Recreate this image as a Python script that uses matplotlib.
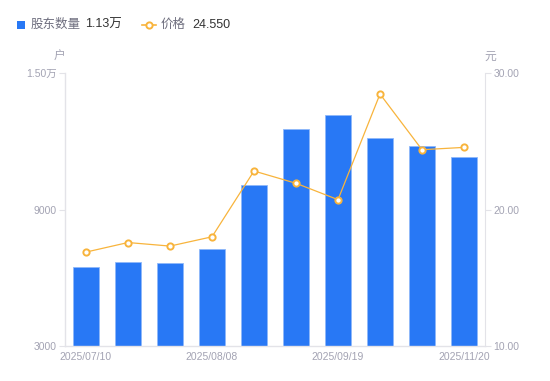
import matplotlib
matplotlib.use("Agg")
import matplotlib.pyplot as plt
import numpy as np

plt.rcParams['font.family'] = ['Liberation Sans', 'Noto Sans CJK SC', 'DejaVu Sans']

dates = ["2025/07/10", "2025/07/18", "2025/07/31", "2025/08/08", "2025/08/20",
         "2025/08/29", "2025/09/19", "2025/09/30", "2025/10/31", "2025/11/20"]
holders = [6470, 6690, 6650, 7260, 10080, 12530, 13160, 12130, 11780, 11300]
price = [16.88, 17.58, 17.32, 18.00, 22.82, 21.92, 20.72, 28.46, 24.38, 24.55]
label_idx = [0, 3, 6, 9]
left_ticks = [3000, 9000, 15000]
left_labels = ["3000", "9000", "1.50万"]
right_ticks = [10, 20, 30]
right_labels = ["10.00", "20.00", "30.00"]

BLUE = "#2878F5"
ORANGE = "#F8B43C"
GREY_TXT = "#A3A3B3"
AXIS = "#E3E3E8"

fig = plt.figure(figsize=(5.5, 3.81), dpi=100)
ax = fig.add_axes([65/550, 1-346/381, 420/550, 273/381])
x = np.arange(len(dates))
ax.bar(x, holders, width=0.6, color=BLUE, edgecolor="#8FB8FA", linewidth=0.6, zorder=2)
ax.set_xlim(-0.5, len(dates)-0.5)
ax.set_ylim(3000, 15000)
ax.set_yticks(left_ticks)
ax.set_yticklabels(left_labels)
ax.set_xticks([x[i] for i in label_idx])
ax.set_xticklabels([dates[i] for i in label_idx])
for s in ["top", "right"]:
    ax.spines[s].set_visible(False)
for s in ["left", "bottom"]:
    ax.spines[s].set_color(AXIS)
    ax.spines[s].set_linewidth(1)
ax.tick_params(axis='y', colors=AXIS, labelcolor=GREY_TXT, labelsize=7.5, length=4, width=0.8, pad=2)
ax.tick_params(axis='x', length=0, labelcolor=GREY_TXT, labelsize=7.5, pad=4)

ax2 = ax.twinx()
ax2.plot(x, price, color=ORANGE, linewidth=0.9, marker='o', markersize=4.5,
         markerfacecolor='white', markeredgecolor=ORANGE, markeredgewidth=1.4, zorder=3)
ax2.set_ylim(10, 30)
ax2.set_yticks(right_ticks)
ax2.set_yticklabels(right_labels)
for s in ["top", "left", "bottom"]:
    ax2.spines[s].set_visible(False)
ax2.spines["right"].set_color(AXIS)
ax2.tick_params(axis='y', colors=AXIS, labelcolor=GREY_TXT, labelsize=7.5, length=4, width=0.8, pad=2)

fig.text(60/550, 1-57/381, "户", color=GREY_TXT, fontsize=8.5, ha='center', va='center')
fig.text(490/550, 1-57/381, "元", color=GREY_TXT, fontsize=8.5, ha='center', va='center')

# legend
ly = 1-25/381
fig.patches.append(plt.Rectangle((17/550, 1-29/381), 8/550, 8/381, transform=fig.transFigure,
                                 facecolor=BLUE, edgecolor='none'))
fig.text(31/550, ly, "股东数量", color="#6E6E7E", fontsize=9, va='center')
fig.text(85/550, ly, "1.13万", color="#333333", fontsize=9, va='center')
fig.lines.append(plt.Line2D([142/550, 149/550, 156/550], [ly, ly, ly], transform=fig.transFigure,
                            color=ORANGE, linewidth=1.2, marker='o', markersize=4.5, markevery=[1],
                            markerfacecolor='white', markeredgecolor=ORANGE, markeredgewidth=1.4))
fig.text(161/550, ly, "价格", color="#6E6E7E", fontsize=9, va='center')
fig.text(192/550, ly, "24.550", color="#333333", fontsize=9, va='center')

fig.savefig("out.png", dpi=100)
